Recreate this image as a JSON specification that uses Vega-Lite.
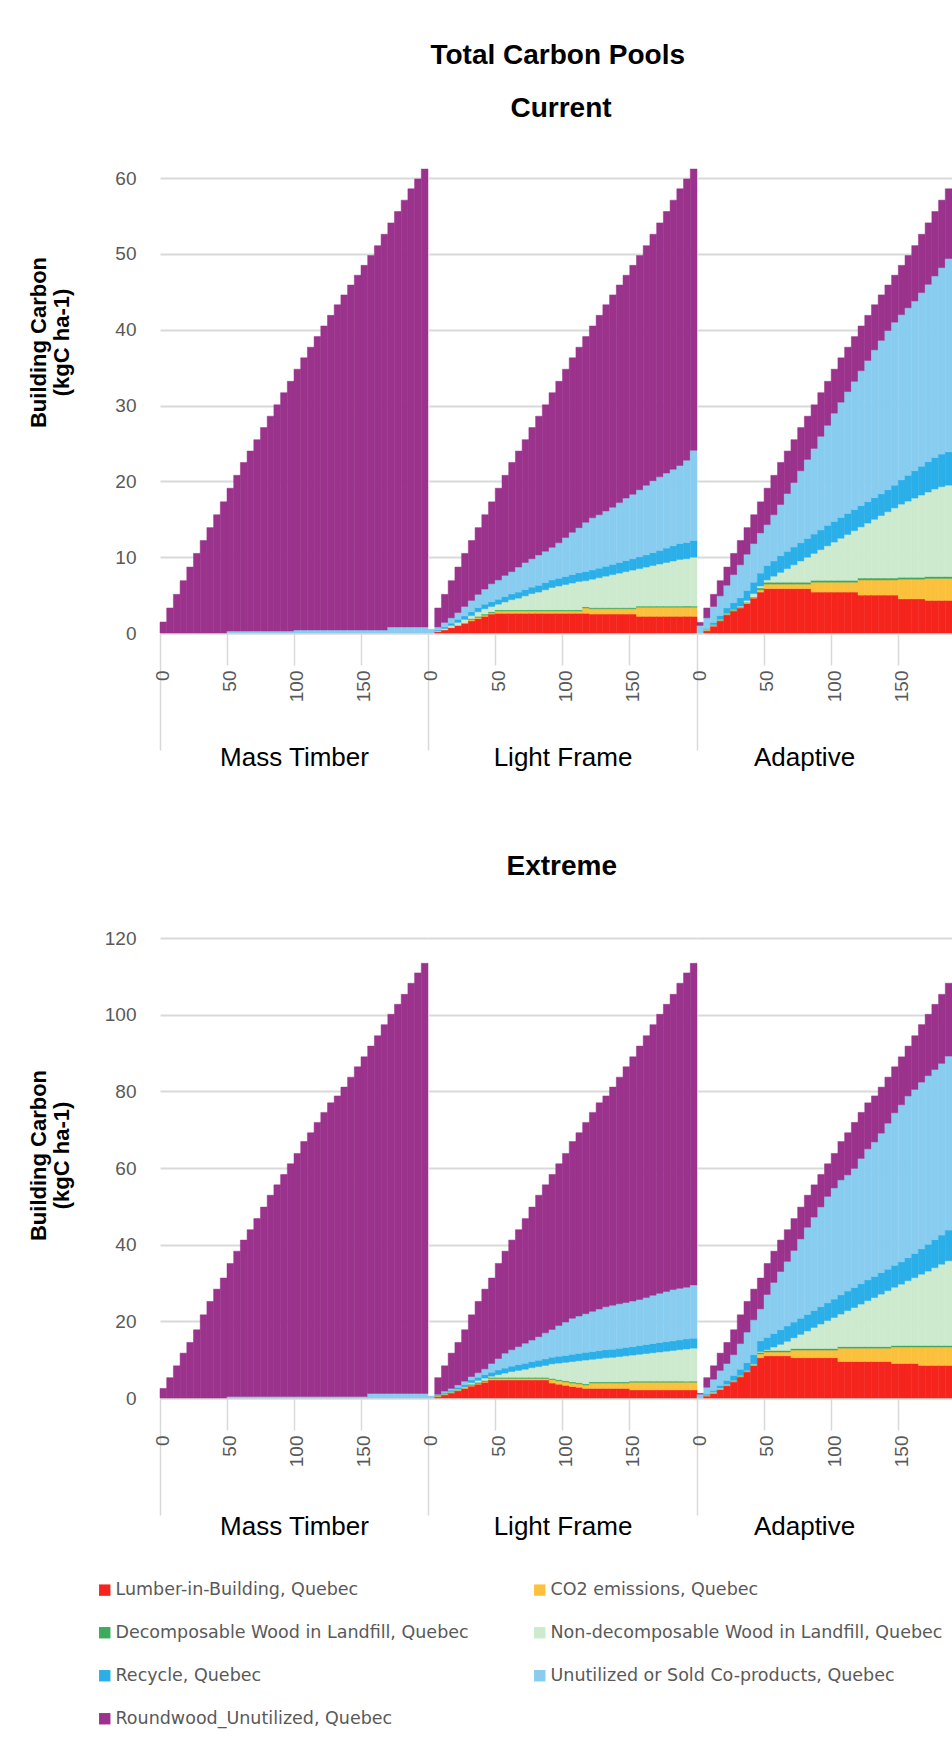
{
"$schema": "https://vega.github.io/schema/vega-lite/v6.json",
"background": "white",
"padding": {"left": 27, "top": 42, "right": 0, "bottom": 10},
"title": {"text": "Total Carbon Pools", "offset": 25, "dx": 68},
"data": {"values": [
{"s":"C","p":"MT","yr":0,"P":1.45},{"s":"C","p":"MT","yr":5,"P":3.3},{"s":"C","p":"MT","yr":10,"P":5.1},{"s":"C","p":"MT","yr":15,"P":6.9},{"s":"C","p":"MT","yr":20,"P":8.7},{"s":"C","p":"MT","yr":25,"P":10.5},{"s":"C","p":"MT","yr":30,"P":12.2},{"s":"C","p":"MT","yr":35,"P":13.9},{"s":"C","p":"MT","yr":40,"P":15.6},{"s":"C","p":"MT","yr":45,"P":17.3},
{"s":"C","p":"MT","yr":50,"U":0.25,"P":18.85},{"s":"C","p":"MT","yr":55,"U":0.25,"P":20.55},{"s":"C","p":"MT","yr":60,"U":0.25,"P":22.25},{"s":"C","p":"MT","yr":65,"U":0.25,"P":23.75},{"s":"C","p":"MT","yr":70,"U":0.25,"P":25.25},{"s":"C","p":"MT","yr":75,"U":0.25,"P":26.85},{"s":"C","p":"MT","yr":80,"U":0.25,"P":28.35},{"s":"C","p":"MT","yr":85,"U":0.25,"P":29.85},{"s":"C","p":"MT","yr":90,"U":0.25,"P":31.45},{"s":"C","p":"MT","yr":95,"U":0.25,"P":32.95},
{"s":"C","p":"MT","yr":100,"U":0.4,"P":34.4},{"s":"C","p":"MT","yr":105,"U":0.4,"P":35.9},{"s":"C","p":"MT","yr":110,"U":0.4,"P":37.3},{"s":"C","p":"MT","yr":115,"U":0.4,"P":38.7},{"s":"C","p":"MT","yr":120,"U":0.4,"P":40.1},{"s":"C","p":"MT","yr":125,"U":0.4,"P":41.5},{"s":"C","p":"MT","yr":130,"U":0.4,"P":42.9},{"s":"C","p":"MT","yr":135,"U":0.4,"P":44.2},{"s":"C","p":"MT","yr":140,"U":0.4,"P":45.5},{"s":"C","p":"MT","yr":145,"U":0.4,"P":46.8},
{"s":"C","p":"MT","yr":150,"U":0.4,"P":48.1},{"s":"C","p":"MT","yr":155,"U":0.4,"P":49.4},{"s":"C","p":"MT","yr":160,"U":0.4,"P":50.7},{"s":"C","p":"MT","yr":165,"U":0.4,"P":52.2},{"s":"C","p":"MT","yr":170,"U":0.8,"P":53.3},{"s":"C","p":"MT","yr":175,"U":0.8,"P":54.8},{"s":"C","p":"MT","yr":180,"U":0.8,"P":56.3},{"s":"C","p":"MT","yr":185,"U":0.8,"P":57.8},{"s":"C","p":"MT","yr":190,"U":0.8,"P":59.1},{"s":"C","p":"MT","yr":195,"U":0.8,"P":60.4},

{"s":"C","p":"LF","yr":0,"U":0.5},
{"s":"C","p":"LF","yr":5,"L":0.2,"C":0.05,"N":0.05,"R":0.1,"U":0.4,"P":2.5},
{"s":"C","p":"LF","yr":10,"L":0.4,"C":0.05,"N":0.15,"R":0.2,"U":0.6,"P":3.7},
{"s":"C","p":"LF","yr":15,"L":0.7,"C":0.05,"N":0.25,"R":0.3,"U":0.7,"P":4.9},
{"s":"C","p":"LF","yr":20,"L":1.0,"C":0.05,"N":0.35,"R":0.4,"U":0.9,"P":6.0},
{"s":"C","p":"LF","yr":25,"L":1.3,"C":0.05,"N":0.45,"R":0.45,"U":1.25,"P":7.0},
{"s":"C","p":"LF","yr":30,"L":1.6,"C":0.15,"D":0.15,"N":0.4,"R":0.5,"U":1.5,"P":7.9},
{"s":"C","p":"LF","yr":35,"L":1.9,"C":0.15,"D":0.15,"N":0.6,"R":0.55,"U":1.75,"P":8.8},
{"s":"C","p":"LF","yr":40,"L":2.2,"C":0.15,"D":0.15,"N":0.7,"R":0.6,"U":2.0,"P":9.8},
{"s":"C","p":"LF","yr":45,"L":2.5,"C":0.15,"D":0.15,"N":0.7,"R":0.62,"U":2.38,"P":10.8},
{"s":"C","p":"LF","yr":50,"L":2.6,"C":0.3,"D":0.15,"N":0.75,"R":0.65,"U":2.55,"P":12.1},
{"s":"C","p":"LF","yr":55,"L":2.6,"C":0.3,"D":0.15,"N":1.05,"R":0.7,"U":2.8,"P":13.2},
{"s":"C","p":"LF","yr":60,"L":2.6,"C":0.3,"D":0.15,"N":1.35,"R":0.75,"U":2.95,"P":14.4},
{"s":"C","p":"LF","yr":65,"L":2.6,"C":0.3,"D":0.15,"N":1.55,"R":0.8,"U":3.3,"P":15.3},
{"s":"C","p":"LF","yr":70,"L":2.6,"C":0.3,"D":0.15,"N":1.85,"R":0.82,"U":3.58,"P":16.2},
{"s":"C","p":"LF","yr":75,"L":2.6,"C":0.3,"D":0.15,"N":2.15,"R":0.85,"U":3.75,"P":17.3},
{"s":"C","p":"LF","yr":80,"L":2.6,"C":0.3,"D":0.15,"N":2.35,"R":0.9,"U":4.0,"P":18.3},
{"s":"C","p":"LF","yr":85,"L":2.6,"C":0.3,"D":0.15,"N":2.65,"R":0.95,"U":4.15,"P":19.3},
{"s":"C","p":"LF","yr":90,"L":2.6,"C":0.3,"D":0.15,"N":2.95,"R":1.0,"U":4.3,"P":20.4},
{"s":"C","p":"LF","yr":95,"L":2.6,"C":0.3,"D":0.15,"N":3.15,"R":1.02,"U":4.68,"P":21.3},
{"s":"C","p":"LF","yr":100,"L":2.6,"C":0.3,"D":0.15,"N":3.35,"R":1.05,"U":5.15,"P":22.2},
{"s":"C","p":"LF","yr":105,"L":2.6,"C":0.3,"D":0.15,"N":3.55,"R":1.1,"U":5.6,"P":23.0},
{"s":"C","p":"LF","yr":110,"L":2.6,"C":0.3,"D":0.15,"N":3.75,"R":1.15,"U":5.95,"P":23.8},
{"s":"C","p":"LF","yr":115,"L":2.6,"C":0.7,"D":0.15,"N":3.45,"R":1.2,"U":6.5,"P":24.5},
{"s":"C","p":"LF","yr":120,"L":2.5,"C":0.7,"D":0.15,"N":3.75,"R":1.22,"U":6.88,"P":25.3},
{"s":"C","p":"LF","yr":125,"L":2.5,"C":0.7,"D":0.15,"N":3.95,"R":1.25,"U":7.05,"P":26.3},
{"s":"C","p":"LF","yr":130,"L":2.5,"C":0.7,"D":0.15,"N":4.15,"R":1.3,"U":7.3,"P":27.2},
{"s":"C","p":"LF","yr":135,"L":2.5,"C":0.7,"D":0.15,"N":4.35,"R":1.35,"U":7.55,"P":28.0},
{"s":"C","p":"LF","yr":140,"L":2.5,"C":0.7,"D":0.15,"N":4.55,"R":1.4,"U":7.9,"P":28.7},
{"s":"C","p":"LF","yr":145,"L":2.5,"C":0.7,"D":0.15,"N":4.75,"R":1.45,"U":8.25,"P":29.4},
{"s":"C","p":"LF","yr":150,"L":2.5,"C":0.7,"D":0.15,"N":4.95,"R":1.5,"U":8.5,"P":30.2},
{"s":"C","p":"LF","yr":155,"L":2.2,"C":1.2,"D":0.15,"N":4.95,"R":1.55,"U":8.85,"P":30.9},
{"s":"C","p":"LF","yr":160,"L":2.2,"C":1.2,"D":0.15,"N":5.15,"R":1.6,"U":9.2,"P":31.6},
{"s":"C","p":"LF","yr":165,"L":2.2,"C":1.2,"D":0.15,"N":5.35,"R":1.7,"U":9.5,"P":32.5},
{"s":"C","p":"LF","yr":170,"L":2.2,"C":1.2,"D":0.15,"N":5.55,"R":1.8,"U":9.7,"P":33.5},
{"s":"C","p":"LF","yr":175,"L":2.2,"C":1.2,"D":0.15,"N":5.75,"R":1.9,"U":9.9,"P":34.5},
{"s":"C","p":"LF","yr":180,"L":2.2,"C":1.2,"D":0.15,"N":5.95,"R":2.0,"U":10.1,"P":35.5},
{"s":"C","p":"LF","yr":185,"L":2.2,"C":1.2,"D":0.15,"N":6.15,"R":2.1,"U":10.3,"P":36.5},
{"s":"C","p":"LF","yr":190,"L":2.2,"C":1.2,"D":0.15,"N":6.25,"R":2.15,"U":10.85,"P":37.1},
{"s":"C","p":"LF","yr":195,"L":2.2,"C":1.2,"D":0.15,"N":6.45,"R":2.2,"U":11.9,"P":37.1},

{"s":"C","p":"AD","yr":0,"U":1.0,"P":0.4},
{"s":"C","p":"AD","yr":5,"L":0.3,"C":0.1,"D":0.05,"N":0.05,"R":0.1,"U":1.4,"P":1.3},
{"s":"C","p":"AD","yr":10,"L":0.9,"C":0.1,"D":0.05,"N":0.05,"R":0.3,"U":2.1,"P":1.6},
{"s":"C","p":"AD","yr":15,"L":1.6,"C":0.1,"D":0.05,"N":0.05,"R":0.5,"U":2.6,"P":2.0},
{"s":"C","p":"AD","yr":20,"L":2.4,"C":0.1,"D":0.05,"N":0.05,"R":0.7,"U":3.0,"P":2.4},
{"s":"C","p":"AD","yr":25,"L":2.9,"C":0.1,"D":0.05,"N":0.05,"R":0.9,"U":3.7,"P":2.8},
{"s":"C","p":"AD","yr":30,"L":3.3,"C":0.1,"D":0.05,"N":0.1,"R":1.1,"U":4.35,"P":3.2},
{"s":"C","p":"AD","yr":35,"L":3.9,"C":0.1,"D":0.05,"N":0.25,"R":1.3,"U":4.8,"P":3.5},
{"s":"C","p":"AD","yr":40,"L":4.6,"C":0.1,"D":0.05,"N":0.45,"R":1.5,"U":5.1,"P":3.8},
{"s":"C","p":"AD","yr":45,"L":5.4,"C":0.3,"D":0.25,"N":0.25,"R":1.7,"U":5.3,"P":4.1},
{"s":"C","p":"AD","yr":50,"L":5.85,"C":0.6,"D":0.25,"N":0.3,"R":1.9,"U":5.4,"P":4.8},
{"s":"C","p":"AD","yr":55,"L":5.85,"C":0.6,"D":0.25,"N":0.8,"R":2.0,"U":6.1,"P":5.2},
{"s":"C","p":"AD","yr":60,"L":5.85,"C":0.6,"D":0.25,"N":1.3,"R":2.2,"U":6.75,"P":5.55},
{"s":"C","p":"AD","yr":65,"L":5.85,"C":0.6,"D":0.25,"N":1.8,"R":2.27,"U":7.63,"P":5.6},
{"s":"C","p":"AD","yr":70,"L":5.85,"C":0.6,"D":0.25,"N":2.3,"R":2.34,"U":8.51,"P":5.65},
{"s":"C","p":"AD","yr":75,"L":5.85,"C":0.6,"D":0.25,"N":2.8,"R":2.41,"U":9.49,"P":5.7},
{"s":"C","p":"AD","yr":80,"L":5.85,"C":0.6,"D":0.25,"N":3.3,"R":2.48,"U":10.42,"P":5.7},
{"s":"C","p":"AD","yr":85,"L":5.4,"C":1.3,"D":0.25,"N":3.55,"R":2.55,"U":11.3,"P":5.75},
{"s":"C","p":"AD","yr":90,"L":5.4,"C":1.3,"D":0.25,"N":4.05,"R":2.6,"U":12.35,"P":5.75},
{"s":"C","p":"AD","yr":95,"L":5.4,"C":1.3,"D":0.25,"N":4.55,"R":2.7,"U":13.2,"P":5.8},
{"s":"C","p":"AD","yr":100,"L":5.4,"C":1.3,"D":0.25,"N":5.05,"R":2.72,"U":14.28,"P":5.8},
{"s":"C","p":"AD","yr":105,"L":5.4,"C":1.3,"D":0.25,"N":5.55,"R":2.74,"U":15.21,"P":5.85},
{"s":"C","p":"AD","yr":110,"L":5.4,"C":1.3,"D":0.25,"N":6.05,"R":2.76,"U":16.09,"P":5.85},
{"s":"C","p":"AD","yr":115,"L":5.4,"C":1.3,"D":0.25,"N":6.55,"R":2.78,"U":16.92,"P":5.9},
{"s":"C","p":"AD","yr":120,"L":5.0,"C":2.0,"D":0.25,"N":6.75,"R":2.8,"U":17.8,"P":5.9},
{"s":"C","p":"AD","yr":125,"L":5.0,"C":2.0,"D":0.25,"N":7.25,"R":2.82,"U":18.63,"P":5.95},
{"s":"C","p":"AD","yr":130,"L":5.0,"C":2.0,"D":0.25,"N":7.75,"R":2.85,"U":19.5,"P":5.95},
{"s":"C","p":"AD","yr":135,"L":5.0,"C":2.0,"D":0.25,"N":8.25,"R":2.87,"U":20.23,"P":6.0},
{"s":"C","p":"AD","yr":140,"L":5.0,"C":2.0,"D":0.25,"N":8.75,"R":2.9,"U":21.0,"P":6.0},
{"s":"C","p":"AD","yr":145,"L":5.0,"C":2.0,"D":0.25,"N":9.25,"R":3.0,"U":21.5,"P":6.2},
{"s":"C","p":"AD","yr":150,"L":4.5,"C":2.6,"D":0.25,"N":9.65,"R":3.2,"U":21.8,"P":6.5},
{"s":"C","p":"AD","yr":155,"L":4.5,"C":2.6,"D":0.25,"N":10.05,"R":3.4,"U":22.1,"P":6.9},
{"s":"C","p":"AD","yr":160,"L":4.5,"C":2.6,"D":0.25,"N":10.45,"R":3.6,"U":22.4,"P":7.3},
{"s":"C","p":"AD","yr":165,"L":4.5,"C":2.6,"D":0.25,"N":10.85,"R":3.8,"U":22.9,"P":7.7},
{"s":"C","p":"AD","yr":170,"L":4.3,"C":2.9,"D":0.25,"N":11.15,"R":4.0,"U":23.4,"P":8.1},
{"s":"C","p":"AD","yr":175,"L":4.3,"C":2.9,"D":0.25,"N":11.55,"R":4.15,"U":23.95,"P":8.5},
{"s":"C","p":"AD","yr":180,"L":4.3,"C":2.9,"D":0.25,"N":11.85,"R":4.3,"U":24.6,"P":8.9},
{"s":"C","p":"AD","yr":185,"L":4.3,"C":2.9,"D":0.25,"N":12.05,"R":4.4,"U":25.5,"P":9.2},

{"s":"E","p":"MT","yr":0,"P":2.5},{"s":"E","p":"MT","yr":5,"P":5.3},{"s":"E","p":"MT","yr":10,"P":8.4},{"s":"E","p":"MT","yr":15,"P":11.7},{"s":"E","p":"MT","yr":20,"P":14.5},{"s":"E","p":"MT","yr":25,"P":17.8},{"s":"E","p":"MT","yr":30,"P":21.7},{"s":"E","p":"MT","yr":35,"P":25.2},{"s":"E","p":"MT","yr":40,"P":28.4},{"s":"E","p":"MT","yr":45,"P":31.3},
{"s":"E","p":"MT","yr":50,"U":0.4,"P":34.7},{"s":"E","p":"MT","yr":55,"U":0.4,"P":37.9},{"s":"E","p":"MT","yr":60,"U":0.4,"P":40.8},{"s":"E","p":"MT","yr":65,"U":0.4,"P":43.5},{"s":"E","p":"MT","yr":70,"U":0.4,"P":46.4},{"s":"E","p":"MT","yr":75,"U":0.4,"P":49.4},{"s":"E","p":"MT","yr":80,"U":0.4,"P":52.5},{"s":"E","p":"MT","yr":85,"U":0.4,"P":55.2},{"s":"E","p":"MT","yr":90,"U":0.4,"P":57.9},{"s":"E","p":"MT","yr":95,"U":0.4,"P":60.7},
{"s":"E","p":"MT","yr":100,"U":0.4,"P":63.4},{"s":"E","p":"MT","yr":105,"U":0.4,"P":66.5},{"s":"E","p":"MT","yr":110,"U":0.4,"P":68.8},{"s":"E","p":"MT","yr":115,"U":0.4,"P":71.5},{"s":"E","p":"MT","yr":120,"U":0.4,"P":74.1},{"s":"E","p":"MT","yr":125,"U":0.4,"P":76.6},{"s":"E","p":"MT","yr":130,"U":0.4,"P":78.4},{"s":"E","p":"MT","yr":135,"U":0.4,"P":80.7},{"s":"E","p":"MT","yr":140,"U":0.4,"P":83.3},{"s":"E","p":"MT","yr":145,"U":0.4,"P":86.0},
{"s":"E","p":"MT","yr":150,"U":0.4,"P":88.6},{"s":"E","p":"MT","yr":155,"U":1.2,"P":90.6},{"s":"E","p":"MT","yr":160,"U":1.2,"P":93.3},{"s":"E","p":"MT","yr":165,"U":1.2,"P":96.2},{"s":"E","p":"MT","yr":170,"U":1.2,"P":98.9},{"s":"E","p":"MT","yr":175,"U":1.2,"P":101.5},{"s":"E","p":"MT","yr":180,"U":1.2,"P":104.1},{"s":"E","p":"MT","yr":185,"U":1.2,"P":107.0},{"s":"E","p":"MT","yr":190,"U":1.2,"P":109.7},{"s":"E","p":"MT","yr":195,"U":1.2,"P":112.2},

{"s":"E","p":"LF","yr":0,"U":0.5},
{"s":"E","p":"LF","yr":5,"L":0.3,"C":0.2,"D":0.05,"N":0.1,"R":0.2,"U":0.15,"P":4.3},
{"s":"E","p":"LF","yr":10,"L":0.8,"C":0.2,"D":0.05,"N":0.1,"R":0.3,"U":0.35,"P":6.6},
{"s":"E","p":"LF","yr":15,"L":1.3,"C":0.2,"D":0.05,"N":0.1,"R":0.4,"U":0.45,"P":9.2},
{"s":"E","p":"LF","yr":20,"L":1.9,"C":0.2,"D":0.05,"N":0.15,"R":0.5,"U":0.6,"P":11.1},
{"s":"E","p":"LF","yr":25,"L":2.5,"C":0.2,"D":0.05,"N":0.15,"R":0.6,"U":0.9,"P":13.4},
{"s":"E","p":"LF","yr":30,"L":3.1,"C":0.2,"D":0.3,"N":0.4,"R":0.7,"U":0.9,"P":16.1},
{"s":"E","p":"LF","yr":35,"L":3.6,"C":0.2,"D":0.3,"N":0.5,"R":0.8,"U":1.2,"P":18.6},
{"s":"E","p":"LF","yr":40,"L":4.1,"C":0.2,"D":0.3,"N":0.6,"R":0.9,"U":1.5,"P":20.8},
{"s":"E","p":"LF","yr":45,"L":4.7,"C":0.4,"D":0.3,"N":0.3,"R":1.0,"U":2.3,"P":22.3},
{"s":"E","p":"LF","yr":50,"L":4.7,"C":0.4,"D":0.3,"N":0.7,"R":1.2,"U":3.0,"P":24.8},
{"s":"E","p":"LF","yr":55,"L":4.7,"C":0.4,"D":0.3,"N":1.1,"R":1.3,"U":3.9,"P":26.6},
{"s":"E","p":"LF","yr":60,"L":4.7,"C":0.4,"D":0.3,"N":1.5,"R":1.4,"U":4.3,"P":28.6},
{"s":"E","p":"LF","yr":65,"L":4.7,"C":0.4,"D":0.3,"N":1.8,"R":1.5,"U":4.7,"P":30.5},
{"s":"E","p":"LF","yr":70,"L":4.7,"C":0.4,"D":0.3,"N":2.1,"R":1.55,"U":5.25,"P":32.5},
{"s":"E","p":"LF","yr":75,"L":4.7,"C":0.4,"D":0.3,"N":2.5,"R":1.6,"U":5.6,"P":34.7},
{"s":"E","p":"LF","yr":80,"L":4.7,"C":0.4,"D":0.3,"N":2.8,"R":1.65,"U":6.15,"P":36.9},
{"s":"E","p":"LF","yr":85,"L":4.7,"C":0.4,"D":0.3,"N":3.1,"R":1.7,"U":6.8,"P":38.6},
{"s":"E","p":"LF","yr":90,"L":3.9,"C":0.9,"D":0.3,"N":3.8,"R":1.75,"U":7.25,"P":40.4},
{"s":"E","p":"LF","yr":95,"L":3.6,"C":0.9,"D":0.3,"N":4.3,"R":1.8,"U":8.0,"P":42.2},
{"s":"E","p":"LF","yr":100,"L":3.3,"C":0.9,"D":0.3,"N":4.8,"R":1.8,"U":8.7,"P":44.0},
{"s":"E","p":"LF","yr":105,"L":3.0,"C":0.9,"D":0.3,"N":5.3,"R":1.9,"U":9.4,"P":46.1},
{"s":"E","p":"LF","yr":110,"L":2.8,"C":0.9,"D":0.3,"N":5.7,"R":1.95,"U":9.75,"P":47.8},
{"s":"E","p":"LF","yr":115,"L":2.5,"C":0.9,"D":0.3,"N":6.2,"R":2.0,"U":10.1,"P":49.9},
{"s":"E","p":"LF","yr":120,"L":2.5,"C":1.4,"D":0.3,"N":5.9,"R":2.0,"U":10.5,"P":51.9},
{"s":"E","p":"LF","yr":125,"L":2.5,"C":1.4,"D":0.3,"N":6.1,"R":2.05,"U":10.85,"P":53.8},
{"s":"E","p":"LF","yr":130,"L":2.5,"C":1.4,"D":0.3,"N":6.3,"R":2.1,"U":11.2,"P":55.0},
{"s":"E","p":"LF","yr":135,"L":2.5,"C":1.4,"D":0.3,"N":6.4,"R":2.1,"U":11.5,"P":56.9},
{"s":"E","p":"LF","yr":140,"L":2.5,"C":1.4,"D":0.3,"N":6.6,"R":2.15,"U":11.65,"P":59.1},
{"s":"E","p":"LF","yr":145,"L":2.5,"C":1.4,"D":0.3,"N":6.8,"R":2.2,"U":11.7,"P":61.5},
{"s":"E","p":"LF","yr":150,"L":2.1,"C":2.0,"D":0.3,"N":6.8,"R":2.2,"U":11.9,"P":63.7},
{"s":"E","p":"LF","yr":155,"L":2.1,"C":2.0,"D":0.3,"N":7.0,"R":2.3,"U":12.0,"P":66.1},
{"s":"E","p":"LF","yr":160,"L":2.1,"C":2.0,"D":0.3,"N":7.2,"R":2.35,"U":12.25,"P":68.3},
{"s":"E","p":"LF","yr":165,"L":2.1,"C":2.0,"D":0.3,"N":7.4,"R":2.4,"U":12.6,"P":70.6},
{"s":"E","p":"LF","yr":170,"L":2.1,"C":2.0,"D":0.3,"N":7.6,"R":2.45,"U":12.85,"P":72.8},
{"s":"E","p":"LF","yr":175,"L":2.1,"C":2.0,"D":0.3,"N":7.8,"R":2.5,"U":13.1,"P":74.9},
{"s":"E","p":"LF","yr":180,"L":2.1,"C":2.0,"D":0.3,"N":8.0,"R":2.5,"U":13.4,"P":77.0},
{"s":"E","p":"LF","yr":185,"L":2.1,"C":2.0,"D":0.3,"N":8.2,"R":2.55,"U":13.45,"P":79.6},
{"s":"E","p":"LF","yr":190,"L":2.1,"C":2.0,"D":0.3,"N":8.4,"R":2.6,"U":13.5,"P":82.0},
{"s":"E","p":"LF","yr":195,"L":2.1,"C":2.0,"D":0.3,"N":8.6,"R":2.6,"U":13.9,"P":83.9},

{"s":"E","p":"AD","yr":0,"U":1.0,"P":0.2},
{"s":"E","p":"AD","yr":5,"L":0.5,"C":0.2,"D":0.1,"N":0.1,"R":0.2,"U":1.7,"P":2.5},
{"s":"E","p":"AD","yr":10,"L":1.2,"C":0.2,"D":0.1,"N":0.1,"R":0.4,"U":2.9,"P":3.5},
{"s":"E","p":"AD","yr":15,"L":2.2,"C":0.2,"D":0.1,"N":0.1,"R":0.7,"U":3.9,"P":4.5},
{"s":"E","p":"AD","yr":20,"L":3.2,"C":0.2,"D":0.1,"N":0.1,"R":1.0,"U":4.4,"P":5.5},
{"s":"E","p":"AD","yr":25,"L":4.2,"C":0.2,"D":0.1,"N":0.1,"R":1.3,"U":5.4,"P":6.5},
{"s":"E","p":"AD","yr":30,"L":5.5,"C":0.2,"D":0.1,"N":0.1,"R":1.6,"U":6.7,"P":7.5},
{"s":"E","p":"AD","yr":35,"L":6.8,"C":0.2,"D":0.1,"N":0.1,"R":2.0,"U":8.0,"P":8.0},
{"s":"E","p":"AD","yr":40,"L":8.5,"C":0.2,"D":0.1,"N":0.1,"R":2.4,"U":9.1,"P":8.0},
{"s":"E","p":"AD","yr":45,"L":10.5,"C":1.0,"D":0.4,"N":0.2,"R":2.8,"U":8.35,"P":8.05},
{"s":"E","p":"AD","yr":50,"L":11.0,"C":1.0,"D":0.4,"N":0.2,"R":3.2,"U":11.2,"P":8.1},
{"s":"E","p":"AD","yr":55,"L":11.0,"C":1.0,"D":0.4,"N":0.9,"R":3.5,"U":13.35,"P":8.15},
{"s":"E","p":"AD","yr":60,"L":11.0,"C":1.0,"D":0.4,"N":1.6,"R":3.8,"U":15.2,"P":8.2},
{"s":"E","p":"AD","yr":65,"L":11.0,"C":1.0,"D":0.4,"N":2.4,"R":4.0,"U":16.85,"P":8.25},
{"s":"E","p":"AD","yr":70,"L":10.5,"C":2.0,"D":0.4,"N":2.8,"R":4.1,"U":18.7,"P":8.3},
{"s":"E","p":"AD","yr":75,"L":10.5,"C":2.0,"D":0.4,"N":3.7,"R":4.2,"U":20.7,"P":8.3},
{"s":"E","p":"AD","yr":80,"L":10.5,"C":2.0,"D":0.4,"N":4.6,"R":4.3,"U":22.75,"P":8.35},
{"s":"E","p":"AD","yr":85,"L":10.5,"C":2.0,"D":0.4,"N":5.5,"R":4.4,"U":24.4,"P":8.4},
{"s":"E","p":"AD","yr":90,"L":10.5,"C":2.0,"D":0.4,"N":6.4,"R":4.5,"U":26.05,"P":8.45},
{"s":"E","p":"AD","yr":95,"L":10.5,"C":2.0,"D":0.4,"N":7.3,"R":4.6,"U":27.8,"P":8.5},
{"s":"E","p":"AD","yr":100,"L":10.5,"C":2.0,"D":0.4,"N":8.1,"R":4.8,"U":29.0,"P":9.0},
{"s":"E","p":"AD","yr":105,"L":9.5,"C":3.5,"D":0.4,"N":8.5,"R":5.0,"U":30.0,"P":10.0},
{"s":"E","p":"AD","yr":110,"L":9.5,"C":3.5,"D":0.4,"N":9.4,"R":5.1,"U":30.3,"P":11.0},
{"s":"E","p":"AD","yr":115,"L":9.5,"C":3.5,"D":0.4,"N":10.2,"R":5.2,"U":31.1,"P":12.0},
{"s":"E","p":"AD","yr":120,"L":9.5,"C":3.5,"D":0.4,"N":11.1,"R":5.3,"U":32.7,"P":12.0},
{"s":"E","p":"AD","yr":125,"L":9.5,"C":3.5,"D":0.4,"N":12.0,"R":5.4,"U":34.2,"P":12.0},
{"s":"E","p":"AD","yr":130,"L":9.5,"C":3.5,"D":0.4,"N":12.8,"R":5.5,"U":35.1,"P":12.0},
{"s":"E","p":"AD","yr":135,"L":9.5,"C":3.5,"D":0.4,"N":13.7,"R":5.6,"U":36.4,"P":12.0},
{"s":"E","p":"AD","yr":140,"L":9.5,"C":3.5,"D":0.4,"N":14.6,"R":5.6,"U":38.1,"P":12.0},
{"s":"E","p":"AD","yr":145,"L":9.0,"C":4.3,"D":0.4,"N":15.2,"R":5.7,"U":39.8,"P":12.0},
{"s":"E","p":"AD","yr":150,"L":9.0,"C":4.3,"D":0.4,"N":16.0,"R":5.8,"U":41.0,"P":12.5},
{"s":"E","p":"AD","yr":155,"L":9.0,"C":4.3,"D":0.4,"N":16.9,"R":6.0,"U":42.2,"P":13.0},
{"s":"E","p":"AD","yr":160,"L":9.0,"C":4.3,"D":0.4,"N":17.7,"R":6.3,"U":42.8,"P":14.0},
{"s":"E","p":"AD","yr":165,"L":8.5,"C":4.8,"D":0.4,"N":18.6,"R":6.6,"U":43.5,"P":15.0},
{"s":"E","p":"AD","yr":170,"L":8.5,"C":4.8,"D":0.4,"N":19.4,"R":7.0,"U":44.0,"P":16.0},
{"s":"E","p":"AD","yr":175,"L":8.5,"C":4.8,"D":0.4,"N":20.3,"R":7.3,"U":44.4,"P":17.0},
{"s":"E","p":"AD","yr":180,"L":8.5,"C":4.8,"D":0.4,"N":21.2,"R":7.6,"U":44.8,"P":18.0},
{"s":"E","p":"AD","yr":185,"L":8.5,"C":4.8,"D":0.4,"N":22.1,"R":8.0,"U":45.4,"P":19.0}
]},
"transform": [
 {"fold": ["L","C","D","N","R","U","P"], "as": ["k","v"]},
 {"filter": "datum.v > 0"},
 {"calculate": "indexof(['L','C','D','N','R','U','P'], datum.k)", "as": "ord"}
],
"spacing": 82,
"vconcat": [
 {"title": {"text": "Current", "offset": 40, "dx": 71}, "spacing": 0, "bounds": "flush", "hconcat": [
  {"width": 268, "height": 470, "transform": [{"filter": "datum.s === 'C' && datum.p === 'MT'"}],
   "mark": {"type": "bar", "strokeWidth": 0.5},
   "encoding": {
    "x": {"field": "yr", "type": "ordinal", "title": "Mass Timber", "scale": {"paddingInner": 0, "paddingOuter": 0}, "axis": {"values": [0,50,100,150], "bandPosition": 0, "tickSize": {"condition": {"test": "datum.value === 0", "value": 117}, "value": 32}, "labelPadding": {"condition": {"test": "datum.value === 0", "value": -80}, "value": 5}}},
    "y": {"field": "v", "type": "quantitative", "stack": "zero", "scale": {"domain": [0,62], "nice": false}, "axis": {"values": [0,10,20,30,40,50,60], "title": ["Building Carbon", "(kgC ha-1)"], "titlePadding": 41, "titleY": 179}},
    "color": {"field": "k", "type": "nominal", "scale": {"domain": ["L","C","D","N","R","U","P"], "range": ["#f5251e","#fbc13c","#3daa5c","#cdeacf","#2aafe9","#88cdf0","#9b328c"]}, "legend": {"orient": "none", "direction": "horizontal", "legendX": -64, "legendY": 1418, "columns": 2, "title": null, "symbolType": "square", "symbolSize": 130, "symbolStrokeWidth": 0, "labelFontSize": 17.5, "labelFont": "DejaVu Sans", "labelColor": "#595959", "rowPadding": 24, "columnPadding": 62, "labelOffset": 2, "labelLimit": 600, "labelExpr": "{'L':'Lumber-in-Building, Quebec','C':'CO2 emissions, Quebec','D':'Decomposable Wood in Landfill, Quebec','N':'Non-decomposable Wood in Landfill, Quebec','R':'Recycle, Quebec','U':'Unutilized or Sold Co-products, Quebec','P':'Roundwood_Unutilized, Quebec'}[datum.label]"}},
    "stroke": {"field": "k", "type": "nominal", "scale": {"domain": ["L","C","D","N","R","U","P"], "range": ["#f5251e","#fbc13c","#3daa5c","#cdeacf","#2aafe9","#88cdf0","#9b328c"]}, "legend": null},
    "order": {"field": "ord", "type": "quantitative"}
   }},
  {"width": 269, "height": 470, "transform": [{"filter": "datum.s === 'C' && datum.p === 'LF'"}],
   "mark": {"type": "bar", "strokeWidth": 0.5},
   "encoding": {
    "x": {"field": "yr", "type": "ordinal", "title": "Light Frame", "scale": {"paddingInner": 0, "paddingOuter": 0}, "axis": {"values": [0,50,100,150], "bandPosition": 0, "tickSize": {"condition": {"test": "datum.value === 0", "value": 117}, "value": 32}, "labelPadding": {"condition": {"test": "datum.value === 0", "value": -80}, "value": 5}}},
    "y": {"field": "v", "type": "quantitative", "stack": "zero", "scale": {"domain": [0,62], "nice": false}, "axis": {"values": [0,10,20,30,40,50,60], "labels": false, "title": null}},
    "color": {"field": "k", "type": "nominal", "scale": {"domain": ["L","C","D","N","R","U","P"], "range": ["#f5251e","#fbc13c","#3daa5c","#cdeacf","#2aafe9","#88cdf0","#9b328c"]}, "legend": {"orient": "none", "direction": "horizontal", "legendX": -64, "legendY": 1418, "columns": 2, "title": null, "symbolType": "square", "symbolSize": 130, "symbolStrokeWidth": 0, "labelFontSize": 17.5, "labelFont": "DejaVu Sans", "labelColor": "#595959", "rowPadding": 24, "columnPadding": 62, "labelOffset": 2, "labelLimit": 600, "labelExpr": "{'L':'Lumber-in-Building, Quebec','C':'CO2 emissions, Quebec','D':'Decomposable Wood in Landfill, Quebec','N':'Non-decomposable Wood in Landfill, Quebec','R':'Recycle, Quebec','U':'Unutilized or Sold Co-products, Quebec','P':'Roundwood_Unutilized, Quebec'}[datum.label]"}},
    "stroke": {"field": "k", "type": "nominal", "scale": {"domain": ["L","C","D","N","R","U","P"], "range": ["#f5251e","#fbc13c","#3daa5c","#cdeacf","#2aafe9","#88cdf0","#9b328c"]}, "legend": null},
    "order": {"field": "ord", "type": "quantitative"}
   }},
  {"width": 255, "height": 470, "transform": [{"filter": "datum.s === 'C' && datum.p === 'AD'"}],
   "mark": {"type": "bar", "strokeWidth": 0.5},
   "encoding": {
    "x": {"field": "yr", "type": "ordinal", "title": "Adaptive", "scale": {"paddingInner": 0, "paddingOuter": 0}, "axis": {"values": [0,50,100,150], "bandPosition": 0, "titleX": 107, "tickSize": {"condition": {"test": "datum.value === 0", "value": 117}, "value": 32}, "labelPadding": {"condition": {"test": "datum.value === 0", "value": -80}, "value": 5}}},
    "y": {"field": "v", "type": "quantitative", "stack": "zero", "scale": {"domain": [0,62], "nice": false}, "axis": {"values": [0,10,20,30,40,50,60], "labels": false, "title": null}},
    "color": {"field": "k", "type": "nominal", "scale": {"domain": ["L","C","D","N","R","U","P"], "range": ["#f5251e","#fbc13c","#3daa5c","#cdeacf","#2aafe9","#88cdf0","#9b328c"]}, "legend": {"orient": "none", "direction": "horizontal", "legendX": -64, "legendY": 1418, "columns": 2, "title": null, "symbolType": "square", "symbolSize": 130, "symbolStrokeWidth": 0, "labelFontSize": 17.5, "labelFont": "DejaVu Sans", "labelColor": "#595959", "rowPadding": 24, "columnPadding": 62, "labelOffset": 2, "labelLimit": 600, "labelExpr": "{'L':'Lumber-in-Building, Quebec','C':'CO2 emissions, Quebec','D':'Decomposable Wood in Landfill, Quebec','N':'Non-decomposable Wood in Landfill, Quebec','R':'Recycle, Quebec','U':'Unutilized or Sold Co-products, Quebec','P':'Roundwood_Unutilized, Quebec'}[datum.label]"}},
    "stroke": {"field": "k", "type": "nominal", "scale": {"domain": ["L","C","D","N","R","U","P"], "range": ["#f5251e","#fbc13c","#3daa5c","#cdeacf","#2aafe9","#88cdf0","#9b328c"]}, "legend": null},
    "order": {"field": "ord", "type": "quantitative"}
   }}
 ]},
 {"title": {"text": "Extreme", "offset": 48, "dx": 72}, "spacing": 0, "bounds": "flush", "hconcat": [
  {"width": 268, "height": 460, "transform": [{"filter": "datum.s === 'E' && datum.p === 'MT'"}],
   "mark": {"type": "bar", "strokeWidth": 0.5},
   "encoding": {
    "x": {"field": "yr", "type": "ordinal", "title": "Mass Timber", "scale": {"paddingInner": 0, "paddingOuter": 0}, "axis": {"values": [0,50,100,150], "bandPosition": 0, "titlePadding": -2, "tickSize": {"condition": {"test": "datum.value === 0", "value": 117}, "value": 32}, "labelPadding": {"condition": {"test": "datum.value === 0", "value": -80}, "value": 5}}},
    "y": {"field": "v", "type": "quantitative", "stack": "zero", "scale": {"domain": [0,120], "nice": false}, "axis": {"values": [0,20,40,60,80,100,120], "title": ["Building Carbon", "(kgC ha-1)"], "titlePadding": 31, "titleY": 217}},
    "color": {"field": "k", "type": "nominal", "scale": {"domain": ["L","C","D","N","R","U","P"], "range": ["#f5251e","#fbc13c","#3daa5c","#cdeacf","#2aafe9","#88cdf0","#9b328c"]}, "legend": {"orient": "none", "direction": "horizontal", "legendX": -64, "legendY": 1418, "columns": 2, "title": null, "symbolType": "square", "symbolSize": 130, "symbolStrokeWidth": 0, "labelFontSize": 17.5, "labelFont": "DejaVu Sans", "labelColor": "#595959", "rowPadding": 24, "columnPadding": 62, "labelOffset": 2, "labelLimit": 600, "labelExpr": "{'L':'Lumber-in-Building, Quebec','C':'CO2 emissions, Quebec','D':'Decomposable Wood in Landfill, Quebec','N':'Non-decomposable Wood in Landfill, Quebec','R':'Recycle, Quebec','U':'Unutilized or Sold Co-products, Quebec','P':'Roundwood_Unutilized, Quebec'}[datum.label]"}},
    "stroke": {"field": "k", "type": "nominal", "scale": {"domain": ["L","C","D","N","R","U","P"], "range": ["#f5251e","#fbc13c","#3daa5c","#cdeacf","#2aafe9","#88cdf0","#9b328c"]}, "legend": null},
    "order": {"field": "ord", "type": "quantitative"}
   }},
  {"width": 269, "height": 460, "transform": [{"filter": "datum.s === 'E' && datum.p === 'LF'"}],
   "mark": {"type": "bar", "strokeWidth": 0.5},
   "encoding": {
    "x": {"field": "yr", "type": "ordinal", "title": "Light Frame", "scale": {"paddingInner": 0, "paddingOuter": 0}, "axis": {"values": [0,50,100,150], "bandPosition": 0, "titlePadding": -2, "tickSize": {"condition": {"test": "datum.value === 0", "value": 117}, "value": 32}, "labelPadding": {"condition": {"test": "datum.value === 0", "value": -80}, "value": 5}}},
    "y": {"field": "v", "type": "quantitative", "stack": "zero", "scale": {"domain": [0,120], "nice": false}, "axis": {"values": [0,20,40,60,80,100,120], "labels": false, "title": null}},
    "color": {"field": "k", "type": "nominal", "scale": {"domain": ["L","C","D","N","R","U","P"], "range": ["#f5251e","#fbc13c","#3daa5c","#cdeacf","#2aafe9","#88cdf0","#9b328c"]}, "legend": {"orient": "none", "direction": "horizontal", "legendX": -64, "legendY": 1418, "columns": 2, "title": null, "symbolType": "square", "symbolSize": 130, "symbolStrokeWidth": 0, "labelFontSize": 17.5, "labelFont": "DejaVu Sans", "labelColor": "#595959", "rowPadding": 24, "columnPadding": 62, "labelOffset": 2, "labelLimit": 600, "labelExpr": "{'L':'Lumber-in-Building, Quebec','C':'CO2 emissions, Quebec','D':'Decomposable Wood in Landfill, Quebec','N':'Non-decomposable Wood in Landfill, Quebec','R':'Recycle, Quebec','U':'Unutilized or Sold Co-products, Quebec','P':'Roundwood_Unutilized, Quebec'}[datum.label]"}},
    "stroke": {"field": "k", "type": "nominal", "scale": {"domain": ["L","C","D","N","R","U","P"], "range": ["#f5251e","#fbc13c","#3daa5c","#cdeacf","#2aafe9","#88cdf0","#9b328c"]}, "legend": null},
    "order": {"field": "ord", "type": "quantitative"}
   }},
  {"width": 255, "height": 460, "transform": [{"filter": "datum.s === 'E' && datum.p === 'AD'"}],
   "mark": {"type": "bar", "strokeWidth": 0.5},
   "encoding": {
    "x": {"field": "yr", "type": "ordinal", "title": "Adaptive", "scale": {"paddingInner": 0, "paddingOuter": 0}, "axis": {"values": [0,50,100,150], "bandPosition": 0, "titleX": 107, "titlePadding": -2, "tickSize": {"condition": {"test": "datum.value === 0", "value": 117}, "value": 32}, "labelPadding": {"condition": {"test": "datum.value === 0", "value": -80}, "value": 5}}},
    "y": {"field": "v", "type": "quantitative", "stack": "zero", "scale": {"domain": [0,120], "nice": false}, "axis": {"values": [0,20,40,60,80,100,120], "labels": false, "title": null}},
    "color": {"field": "k", "type": "nominal", "scale": {"domain": ["L","C","D","N","R","U","P"], "range": ["#f5251e","#fbc13c","#3daa5c","#cdeacf","#2aafe9","#88cdf0","#9b328c"]}, "legend": {"orient": "none", "direction": "horizontal", "legendX": -64, "legendY": 1418, "columns": 2, "title": null, "symbolType": "square", "symbolSize": 130, "symbolStrokeWidth": 0, "labelFontSize": 17.5, "labelFont": "DejaVu Sans", "labelColor": "#595959", "rowPadding": 24, "columnPadding": 62, "labelOffset": 2, "labelLimit": 600, "labelExpr": "{'L':'Lumber-in-Building, Quebec','C':'CO2 emissions, Quebec','D':'Decomposable Wood in Landfill, Quebec','N':'Non-decomposable Wood in Landfill, Quebec','R':'Recycle, Quebec','U':'Unutilized or Sold Co-products, Quebec','P':'Roundwood_Unutilized, Quebec'}[datum.label]"}},
    "stroke": {"field": "k", "type": "nominal", "scale": {"domain": ["L","C","D","N","R","U","P"], "range": ["#f5251e","#fbc13c","#3daa5c","#cdeacf","#2aafe9","#88cdf0","#9b328c"]}, "legend": null},
    "order": {"field": "ord", "type": "quantitative"}
   }}
 ]}
],
"config": {
 "view": {"stroke": null},
 "font": "Liberation Sans",
 "axis": {"labelFont": "Liberation Sans", "titleFont": "Liberation Sans", "labelColor": "#595959", "labelFontSize": 19, "gridColor": "#d9d9d9", "gridWidth": 2, "domainColor": "#d9d9d9", "tickColor": "#d9d9d9"},
 "axisX": {"labelAngle": -90, "domainWidth": 2, "tickWidth": 1.5, "grid": false, "titleFontSize": 26, "titleFontWeight": "normal", "titleColor": "#000000", "titlePadding": -6},
 "axisY": {"domain": false, "ticks": false, "labelPadding": 24, "grid": true, "titleFontSize": 22, "titleFontWeight": "bold", "titleColor": "#000000", "titleLineHeight": 23},
 "title": {"font": "Liberation Sans", "fontSize": 28, "fontWeight": "bold", "color": "#000000", "anchor": "middle"}
}
}
